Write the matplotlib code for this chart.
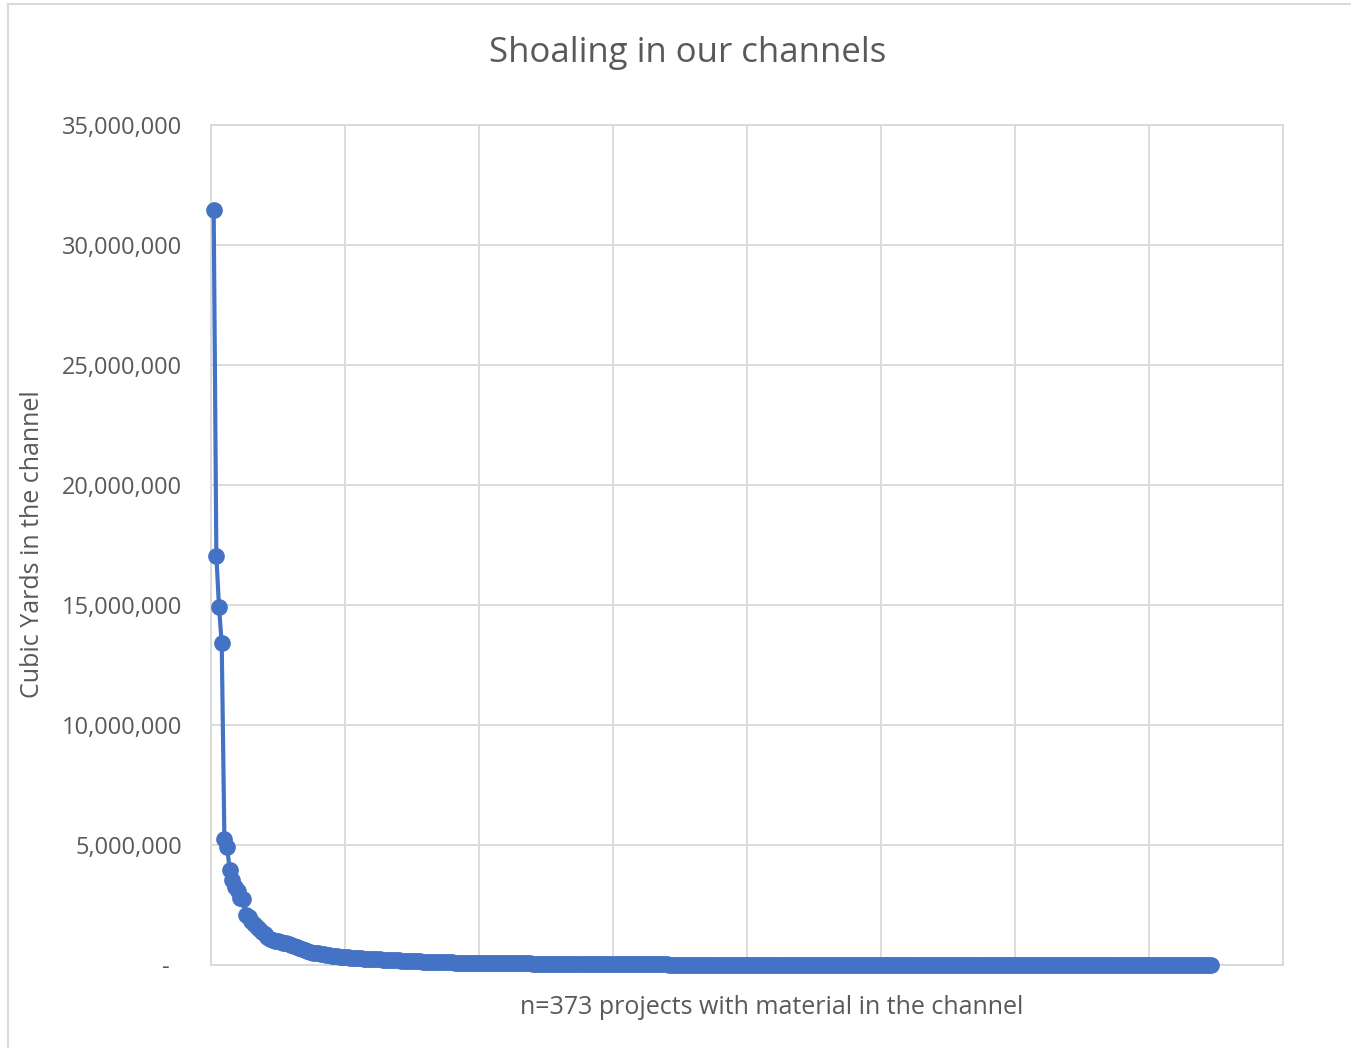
import matplotlib
matplotlib.use("Agg")
import matplotlib.pyplot as plt
from matplotlib.ticker import FuncFormatter, MultipleLocator
from matplotlib.patches import Rectangle

# cubic yards per project, sorted largest first (values in thousands)
top_projects = [31450, 17050, 14900, 13400, 5250, 4900, 3950, 3550, 3250, 3100, 2800, 2750]
mid_projects = [
    2100, 1980, 1850, 1720, 1600, 1480, 1380, 1290,
    1170, 1100, 1060, 1020, 990, 960, 930, 900, 860, 820,
    780, 730, 690, 650, 610, 580, 550, 520, 500, 480,
    460, 440, 420, 405, 390, 375, 360, 350, 340, 330,
    320, 310, 300, 292, 285, 278, 270, 262, 255, 248,
    242, 236, 230, 224, 218, 212, 206, 200, 195, 190,
    185, 180, 176, 172, 168, 164, 160, 156, 140, 136,
    132, 128, 125, 122, 119, 116, 113, 110, 108, 106,
    104, 102, 100, 98, 96, 94, 92, 90, 88, 86,
    84, 82, 80, 78, 77, 76, 75, 74, 73, 72,
    71, 70, 69, 68, 67, 66, 65, 64, 63, 62,
    61, 60, 59, 58, 57, 56, 55, 54, 53, 52,
    51, 50, 49, 48, 48, 47, 47, 46, 46, 45,
    45, 44, 44, 43, 43, 42, 42, 41, 41, 40,
    40, 39, 39, 38, 38, 37, 37, 36, 36, 35,
    35, 34, 34, 33, 33,
]
small_projects = [
    22, 22, 21, 21, 21, 20, 20, 20, 19, 19,
    19, 18, 18, 18, 17, 17, 17, 16, 16, 16,
    16, 15, 15, 15, 15, 14, 14, 14, 14, 13,
    13, 13, 13, 12.5, 12, 12, 12, 11.5, 11.5, 11,
    11, 11, 10.5, 10.5, 10, 10, 10, 9.8, 9.6, 9.4,
    9.2, 9.0, 8.8, 8.7, 8.5, 8.4, 8.2, 8.0, 7.9, 7.8,
    7.6, 7.5, 7.4, 7.2, 7.1, 7.0, 6.9, 6.8, 6.6, 6.5,
    6.4, 6.3, 6.2, 6.1, 6.0, 5.9, 5.8, 5.7, 5.6, 5.5,
    5.4, 5.3, 5.2, 5.1, 5.0, 4.9, 4.8, 4.8, 4.7, 4.6,
    4.5, 4.4, 4.4, 4.3, 4.2, 4.1, 4.0, 4.0, 3.9, 3.8,
    3.8, 3.7, 3.6, 3.6, 3.5, 3.4, 3.4, 3.3, 3.2, 3.2,
    3.1, 3.0, 3.0, 2.9, 2.9, 2.8, 2.7, 2.7, 2.6, 2.6,
    2.5, 2.5, 2.4, 2.4, 2.3, 2.3, 2.2, 2.2, 2.1, 2.1,
    2.0, 2.0, 1.9, 1.9, 1.85, 1.8, 1.75, 1.7, 1.7, 1.65,
    1.6, 1.55, 1.5, 1.5, 1.45, 1.4, 1.35, 1.3, 1.3, 1.25,
    1.2, 1.15, 1.1, 1.1, 1.05, 1.0, 0.98, 0.95, 0.92, 0.9,
    0.87, 0.85, 0.82, 0.8, 0.78, 0.75, 0.72, 0.7, 0.68, 0.65,
    0.63, 0.6, 0.58, 0.55, 0.53, 0.5, 0.48, 0.46, 0.44, 0.42,
    0.4, 0.38, 0.36, 0.34, 0.32, 0.3, 0.28, 0.27, 0.25, 0.24,
    0.22, 0.21, 0.2, 0.18, 0.17, 0.16, 0.15, 0.14, 0.13, 0.12,
    0.11, 0.1, 0.09, 0.08, 0.07, 0.06, 0.05, 0.04,
]

yards = [v * 1000 for v in top_projects + mid_projects + small_projects]
project_no = list(range(1, len(yards) + 1))

blue = "#4472C4"
grid_col = "#d9d9d9"
txt_col = "#595959"
plt.rcParams["font.family"] = ["Open Sans", "DejaVu Sans"]

fig = plt.figure(figsize=(13.51, 10.48), dpi=100)
ax = fig.add_axes([211 / 1351, 1 - 965 / 1048, (1283 - 211) / 1351, (965 - 125) / 1048])

ax.plot(project_no, yards, color=blue, lw=3, marker="o", ms=11,
        markeredgecolor=blue, solid_capstyle="round", clip_on=False, zorder=3)

ax.set_xlim(0, 400)
ax.set_ylim(0, 35000000)
ax.xaxis.set_major_locator(MultipleLocator(50))
ax.yaxis.set_major_locator(MultipleLocator(5000000))
ax.grid(True, color=grid_col, lw=1.3)
ax.set_axisbelow(True)
for s in ax.spines.values():
    s.set_color(grid_col)
    s.set_linewidth(1.3)
ax.tick_params(length=0, labelbottom=False)
ax.tick_params(axis="y", labelsize=17, labelcolor=txt_col, pad=21)
ax.yaxis.set_major_formatter(FuncFormatter(lambda v, p: "-  " if v == 0 else f"{int(v):,}"))

fig.text(688 / 1351, 1 - 53 / 1048, "Shoaling in our channels", ha="center", va="center",
         fontsize=25, color=txt_col)
fig.text(772 / 1351, 1 - 1008 / 1048, "n=373 projects with material in the channel",
         ha="center", va="center", fontsize=18, color=txt_col)
fig.text(33 / 1351, 1 - 544 / 1048, "Cubic Yards in the channel", ha="center", va="center",
         rotation=90, fontsize=18, color=txt_col)

fig.patches.append(Rectangle((8 / 1351, -0.05), 1.2, 1 - 4 / 1048 + 0.05, transform=fig.transFigure,
                             fill=False, edgecolor=grid_col, lw=1.5))

fig.savefig("out.png", dpi=100)
